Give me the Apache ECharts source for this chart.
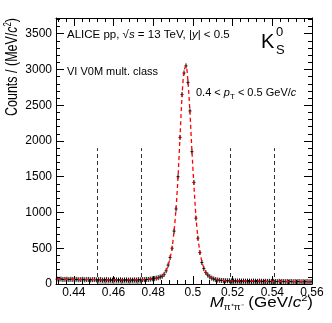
<!DOCTYPE html>
<html>
<head>
<meta charset="utf-8">
<script src="https://cdn.jsdelivr.net/npm/echarts@6/dist/echarts.min.js"></script>
<style>
  html, body { margin: 0; padding: 0; background: #fff; }
  #main { width: 332px; height: 323px; }
</style>
</head>
<body>
<div id="main"></div>
<script>
// invariant mass binning (GeV/c^2), 1 MeV bins
var binStart = 0.4315;
var binWidth = 0.001;

// counts per MeV/c^2
var counts = [
  68, 66, 70, 63, 65, 67, 62, 66, 64, 61,
  65, 60, 63, 66, 59, 62, 64, 58, 61, 63,
  57, 60, 62, 55, 59, 61, 56, 58, 54, 60,
  57, 55, 59, 53, 56, 58, 54, 57, 55, 58,
  56, 60, 58, 62, 61, 65, 63, 68,
  72, 76, 82, 88, 98, 108, 135, 185, 265, 370,
  500, 740, 1050, 1500, 2050, 2650, 2950, 3050, 2820, 2420,
  1850, 1420, 920, 640, 440, 300, 215, 160, 125, 100,
  82, 70, 62, 56, 52, 49,
  47, 46, 44, 45, 43, 42, 44, 41, 43, 40,
  42, 39, 41, 40, 38, 41, 39, 37, 40, 38,
  37, 39, 36, 38, 35, 37, 36, 34, 37, 35,
  36, 33, 35, 34, 36, 32, 34, 33, 35, 31,
  33, 32, 34, 31, 32
];

// fit curve (signal + background), same bins
var fitCurve = [
  66, 66, 65, 65, 65, 64, 64, 64, 63, 63,
  63, 62, 62, 62, 61, 61, 61, 60, 60, 60,
  60, 59, 59, 59, 58, 58, 58, 58, 57, 57,
  57, 57, 57, 57, 57, 57, 57, 57, 58, 58,
  58, 59, 60, 61, 62, 64, 66, 69,
  73, 77, 83, 90, 100, 115, 140, 185, 260, 365,
  510, 740, 1060, 1500, 2060, 2620, 2980, 3050, 2830, 2400,
  1860, 1380, 950, 650, 450, 315, 225, 165, 125, 100,
  84, 72, 64, 58, 54, 51,
  49, 48, 47, 46, 45, 45, 44, 44, 43, 43,
  42, 42, 41, 41, 41, 40, 40, 39, 39, 39,
  38, 38, 38, 37, 37, 37, 36, 36, 36, 35,
  35, 35, 35, 34, 34, 34, 34, 33, 33, 33,
  33, 32, 32, 32, 32
];

var sidebands = [[0.452, 0.474], [0.519, 0.541]];
var sidebandLineTop = 1900;

var xTicks = [0.44, 0.46, 0.48, 0.5, 0.52, 0.54, 0.56];
var yTicks = [0, 500, 1000, 1500, 2000, 2500, 3000, 3500];

var xMin = 0.431, xMax = 0.56;
var yMin = 0, yMax = 3720;

var points = counts.map(function (c, i) { return [+(binStart + i * binWidth).toFixed(4), c]; });
var fitPoints = fitCurve.map(function (c, i) { return [+(binStart + i * binWidth).toFixed(4), c]; });
var sidePoints = points.filter(function (p) {
  return sidebands.some(function (s) { return p[0] > s[0] && p[0] < s[1]; });
});

var xMinor = [];
for (var v = 0.432; v < xMax + 1e-9; v += 0.004) xMinor.push(+v.toFixed(3));
var yMinor = [];
for (var w = 0; w <= yMax; w += 100) yMinor.push(w);

var font = '"Liberation Sans", Arial, sans-serif';
var black = '#000';

function axisBase(kind, pos, ticks, len, showLine, label) {
  var a = {
    type: 'value',
    position: pos,
    min: kind === 'x' ? xMin : yMin,
    max: kind === 'x' ? xMax : yMax,
    axisLine: { show: showLine, onZero: false, lineStyle: { color: black, width: 1 } },
    axisTick: { show: true, inside: true, length: len, customValues: ticks, lineStyle: { color: black, width: 1 } },
    axisLabel: { show: false },
    splitLine: { show: false }
  };
  if (label) {
    a.axisLabel = {
      show: true, customValues: ticks, color: black, fontSize: 12, fontFamily: font,
      margin: kind === 'x' ? 3 : 4,
      formatter: function (val) { return String(val); }
    };
  }
  return a;
}

var chart = echarts.init(document.getElementById('main'));

var option = {
  animation: false,
  backgroundColor: '#fff',
  grid: { left: 56, right: 20, top: 18, bottom: 39 },
  xAxis: [
    axisBase('x', 'bottom', xTicks, 8, true, true),
    axisBase('x', 'bottom', xMinor, 4, false, false),
    axisBase('x', 'top', xTicks, 8, true, false),
    axisBase('x', 'top', xMinor, 4, false, false)
  ],
  yAxis: [
    axisBase('y', 'left', yTicks, 8, true, true),
    axisBase('y', 'left', yMinor, 4, false, false),
    axisBase('y', 'right', yTicks, 8, true, false),
    axisBase('y', 'right', yMinor, 4, false, false)
  ],
  series: [
    {
      // grey fill of the sideband regions
      type: 'custom',
      data: sidePoints,
      encode: { x: 0, y: 1 },
      z: 1,
      silent: true,
      renderItem: function (params, api) {
        var x = api.value(0), y = api.value(1);
        var a = api.coord([x - binWidth / 2, y]);
        var b = api.coord([x + binWidth / 2, 0]);
        return {
          type: 'rect',
          shape: { x: a[0], y: a[1], width: b[0] - a[0], height: b[1] - a[1] },
          style: { fill: '#b4b4b4' }
        };
      }
    },
    {
      // data points
      type: 'custom',
      data: points,
      encode: { x: 0, y: 1 },
      z: 3,
      silent: true,
      renderItem: function (params, api) {
        var x = api.value(0), y = api.value(1);
        var p = api.coord([x, y]);
        var l = api.coord([x - binWidth / 2, y]);
        var r = api.coord([x + binWidth / 2, y]);
        return {
          type: 'group',
          children: [
            { type: 'line', shape: { x1: p[0], y1: p[1] - 2.5, x2: p[0], y2: p[1] + 2.5 }, style: { stroke: black, lineWidth: 1 } },
            { type: 'line', shape: { x1: l[0] - 0.5, y1: p[1], x2: r[0] + 0.5, y2: p[1] }, style: { stroke: black, lineWidth: 1 } }
          ]
        };
      }
    },
    {
      name: 'fit',
      type: 'line',
      data: fitPoints,
      smooth: 0.3,
      showSymbol: false,
      z: 4,
      silent: true,
      lineStyle: { color: '#ff0000', width: 1.3, type: [4, 3] },
      markLine: {
        silent: true,
        symbol: ['none', 'none'],
        label: { show: false },
        lineStyle: { color: '#333', width: 1, type: [4, 3] },
        data: [].concat.apply([], sidebands.map(function (s) {
          return s.map(function (e) { return [{ coord: [e, 0] }, { coord: [e, sidebandLineTop] }]; });
        }))
      }
    }
  ],
  graphic: [
    {
      type: 'text', x: 13, y: 18, rotation: Math.PI / 2, scaleX: 0.78,
      style: {
        text: 'Counts / (MeV/{i|c}{sup|2})', align: 'right', verticalAlign: 'middle',
        font: '16px ' + font, fill: black,
        rich: {
          i: { fontStyle: 'italic', fontSize: 16, fontFamily: font, lineHeight: 20, verticalAlign: 'middle' },
          sup: { fontSize: 10, fontFamily: font, lineHeight: 20, verticalAlign: 'top' }
        }
      }
    },
    {
      type: 'text', x: 313, y: 303, scaleY: 0.85,
      style: {
        text: '{i|M}{sub|π⁺π⁻} (GeV/{i|c}{sup|2})', align: 'right', verticalAlign: 'middle',
        font: '17px ' + font, fill: black, lineHeight: 22,
        rich: {
          i: { fontStyle: 'italic', fontSize: 17, fontFamily: font, lineHeight: 22 },
          sub: { fontSize: 10, fontFamily: font, lineHeight: 22, verticalAlign: 'bottom' },
          sup: { fontSize: 11, fontFamily: font, lineHeight: 22, verticalAlign: 'top' }
        }
      }
    },
    {
      type: 'text', x: 67, y: 35,
      style: {
        text: 'ALICE pp, √{i|s} = 13 TeV, |{i|y}| < 0.5', verticalAlign: 'middle',
        font: '11.5px ' + font, fill: black,
        rich: { i: { fontStyle: 'italic', fontSize: 11.5, fontFamily: font } }
      }
    },
    {
      type: 'text', x: 67, y: 72,
      style: { text: 'VI V0M mult. class', verticalAlign: 'middle', font: '11px ' + font, fill: black }
    },
    {
      type: 'text', x: 196, y: 93,
      style: {
        text: '0.4 < {i|p}{sub|T} < 0.5 GeV/{i|c}', verticalAlign: 'middle',
        font: '11px ' + font, fill: black,
        rich: {
          i: { fontStyle: 'italic', fontSize: 11, fontFamily: font, lineHeight: 16 },
          sub: { fontSize: 8, fontFamily: font, lineHeight: 16, verticalAlign: 'bottom' }
        }
      }
    },
    { type: 'text', x: 261, y: 42, style: { text: 'K', verticalAlign: 'middle', font: '20px ' + font, fill: black } },
    { type: 'text', x: 276, y: 32, style: { text: '0', verticalAlign: 'middle', font: '13px ' + font, fill: black } },
    { type: 'text', x: 276, y: 50, style: { text: 'S', verticalAlign: 'middle', font: '13px ' + font, fill: black } }
  ]
};

chart.setOption(option);
</script>
</body>
</html>
